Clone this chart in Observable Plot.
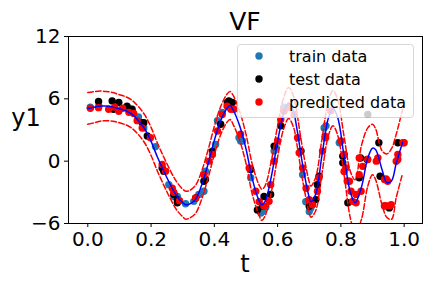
<!DOCTYPE html>
<html><head><meta charset="utf-8">
<script src="https://cdn.jsdelivr.net/npm/d3@7"></script>
<script src="https://cdn.jsdelivr.net/npm/@observablehq/plot@0.6"></script>
<style>body{margin:0;background:white;}</style>
</head><body><div id="chart"></div>
<script>
const title = "VF";
const xLabel = "t";
const yLabel = "y1";
const xTicks = [0, 0.2, 0.4, 0.6, 0.8, 1.0];
const yTicks = [-6, 0, 6, 12];
const legendLabels = ["train data", "test data", "predicted data"];

const lineT = [0, 0.02, 0.04, 0.06, 0.08, 0.10, 0.12, 0.14, 0.16, 0.18, 0.20, 0.22, 0.24, 0.26, 0.28, 0.30, 0.31, 0.32, 0.34, 0.36, 0.38, 0.40, 0.42, 0.44, 0.45, 0.46, 0.48, 0.50, 0.52, 0.54, 0.55, 0.56, 0.58, 0.60, 0.62, 0.635, 0.65, 0.66, 0.68, 0.70, 0.705, 0.72, 0.74, 0.76, 0.775, 0.79, 0.81, 0.83, 0.845, 0.865, 0.885, 0.90, 0.91, 0.93, 0.945, 0.96, 0.975, 0.995];
const lineMean = [5.06, 5.2, 5.3, 5.3, 5.2, 5.05, 4.85, 4.5, 3.9, 3.1, 1.9, 0.4, -0.95, -2.2, -3.3, -4.0, -4.2, -4.15, -3.7, -2.3, -0.3, 2.0, 3.9, 5.1, 5.35, 4.9, 3.4, 1.2, -1.7, -3.7, -4.2, -3.9, -1.5, 1.9, 4.7, 5.6, 4.8, 3.3, -0.5, -3.5, -3.9, -3.2, 0.5, 4.1, 5.1, 4.2, 0.5, -3.0, -4.0, -2.5, 0.3, 1.25, 1.1, -0.8, -2.05, -1.9, -0.2, 1.8];
const lineUpper = [6.6, 6.7, 6.75, 6.7, 6.6, 6.4, 6.2, 5.85, 5.25, 4.45, 3.25, 1.75, 0.4, -0.85, -1.95, -2.7, -2.9, -2.85, -2.35, -0.95, 1.05, 3.35, 5.25, 6.45, 6.7, 6.3, 4.8, 2.6, -0.3, -2.2, -2.7, -2.4, 0.0, 3.4, 6.2, 7.1, 6.3, 4.8, 1.0, -2.0, -2.4, -1.6, 2.1, 5.7, 6.8, 5.9, 2.4, -1.0, -1.8, 1.5, 3.2, 3.55, 3.1, 1.0, 0.7, 1.2, 2.6, 5.0];
const lineLower = [3.55, 3.7, 3.85, 3.9, 3.85, 3.7, 3.5, 3.15, 2.55, 1.75, 0.55, -0.95, -2.3, -3.55, -4.65, -5.35, -5.6, -5.5, -5.05, -3.65, -1.65, 0.65, 2.55, 3.75, 4.0, 3.5, 2.0, -0.2, -3.2, -5.1, -5.7, -5.3, -3.0, 0.4, 3.2, 4.1, 3.3, 1.8, -2.0, -5.0, -5.4, -4.8, -1.2, 2.4, 3.4, 2.5, -1.3, -5.5, -7.0, -5.6, -2.4, -1.3, -1.8, -4.2, -5.4, -5.6, -3.5, -1.2];

const trainT = [0.008, 0.035, 0.16, 0.177, 0.214, 0.256, 0.272, 0.283, 0.309, 0.335, 0.351, 0.367, 0.372, 0.404, 0.41, 0.425, 0.478, 0.483, 0.489, 0.515, 0.547, 0.552, 0.563, 0.589, 0.594, 0.62, 0.62, 0.679, 0.689, 0.7, 0.705, 0.71, 0.726, 0.747, 0.753, 0.795];
const trainY = [5.2, 5.3, 4.25, 3.2, 1.4, -2.26, -3.4, -3.4, -4.1, -3.87, -3.2, -2.9, -0.97, 1.6, 3.9, 4.7, 2.26, 1.94, 1.94, -1.6, -5.0, -4.84, -4.4, 0.97, 1.3, 4.84, 5.2, -1.3, -3.9, -4.84, -4.5, -4.2, -2.26, 3.2, 3.4, 1.77];

const testT = [0.034, 0.077, 0.081, 0.098, 0.124, 0.134, 0.14, 0.172, 0.177, 0.188, 0.235, 0.24, 0.272, 0.283, 0.283, 0.341, 0.367, 0.372, 0.394, 0.42, 0.441, 0.446, 0.457, 0.515, 0.536, 0.552, 0.557, 0.578, 0.589, 0.61, 0.674, 0.7, 0.721, 0.726, 0.731, 0.806, 0.806, 0.822, 0.858, 0.862, 0.885, 0.883, 0.92, 0.924, 0.938, 0.953, 0.98];
const testY = [5.74, 5.8, 5.0, 5.65, 5.3, 5.0, 5.0, 3.7, 3.7, 2.42, -0.65, -0.97, -3.2, -3.7, -4.0, -3.55, -1.94, -1.77, 0.97, 3.55, 5.65, 5.8, 5.65, -0.8, -4.7, -4.35, -3.4, -3.2, 1.45, 3.4, 0.97, -4.35, -3.7, -2.26, -1.45, 0.48, -0.16, -4.0, -1.6, 0.3, 4.5, 0.16, 1.77, -1.45, -4.3, -4.5, 1.77];

const predT = [0.008, 0.034, 0.066, 0.085, 0.098, 0.11, 0.13, 0.145, 0.156, 0.172, 0.198, 0.235, 0.246, 0.267, 0.272, 0.29, 0.341, 0.367, 0.383, 0.394, 0.41, 0.425, 0.44, 0.452, 0.462, 0.483, 0.51, 0.531, 0.542, 0.557, 0.573, 0.578, 0.589, 0.6, 0.61, 0.62, 0.636, 0.652, 0.663, 0.668, 0.679, 0.69, 0.7, 0.71, 0.726, 0.731, 0.742, 0.75, 0.752, 0.768, 0.8, 0.811, 0.81, 0.816, 0.82, 0.827, 0.832, 0.837, 0.848, 0.848, 0.858, 0.858, 0.864, 0.869, 0.885, 0.912, 0.917, 0.938, 0.943, 0.948, 0.938, 0.943, 0.953, 0.959, 0.975, 0.98, 0.98, 0.996, 1.0];
const predY = [5.1, 5.15, 5.0, 5.2, 4.8, 5.1, 4.7, 4.6, 3.9, 3.2, 2.26, -0.32, -0.97, -2.6, -3.0, -3.8, -3.55, -1.3, 0.0, 0.65, 2.9, 4.5, 5.3, 5.0, 5.0, 2.6, -0.65, -2.9, -3.9, -4.35, -3.87, -2.26, 0.0, 1.94, 4.0, 4.84, 5.2, 4.5, 2.26, 0.8, -0.65, -2.6, -3.7, -4.2, -2.9, -1.6, 0.97, 2.4, 2.26, 4.84, 1.94, 0.65, -1.0, -0.65, -1.9, -1.94, -2.9, -3.87, -4.0, -3.2, -1.3, 0.3, -2.9, -0.5, 0.16, 0.0, 0.32, -1.77, -1.7, -1.94, -4.3, -4.3, -4.3, -4.2, 0.0, 0.16, 0.65, 1.77, 1.77];

const colors = {train: "#1f77b4", test: "black", pred: "red", mean: "blue", band: "red"};

const lineData = lineT.map((t, i) => ({t, m: lineMean[i], u: lineUpper[i], l: lineLower[i]}));
const pts = (T, Y) => T.map((t, i) => ({t, y: Y[i]}));
const train = pts(trainT, trainY), test = pts(testT, testY), pred = pts(predT, predY);

const fmtY = d => d < 0 ? "\u2212" + Math.abs(d) : String(d);
const R = 3.7;
const chart = Plot.plot({
  width: 432, height: 288,
  marginLeft: 68, marginRight: 10, marginTop: 36, marginBottom: 65,
  style: {fontFamily: "DejaVu Sans", fontSize: "20px", color: "black", background: "white", overflow: "visible"},
  x: {domain: [-0.061, 1.058]},
  y: {domain: [-6, 12]},
  marks: [
    Plot.axisX({ticks: xTicks, tickFormat: d3.format(".1f"), tickSize: 4, tickPadding: 4, fontSize: 20, label: null, stroke: "black"}),
    Plot.axisY({ticks: yTicks, tickFormat: fmtY, tickSize: 4, tickPadding: 4, fontSize: 20, label: null, stroke: "black"}),
    Plot.dot(train, {x: "t", y: "y", r: R, fill: colors.train, stroke: null}),
    Plot.dot(test, {x: "t", y: "y", r: R, fill: colors.test, stroke: null}),
    Plot.dot(pred, {x: "t", y: "y", r: R, fill: colors.pred, stroke: null}),
    Plot.line(lineData, {x: "t", y: "m", stroke: colors.mean, strokeWidth: 1.5, curve: "catmull-rom", clip: true}),
    Plot.line(lineData, {x: "t", y: "u", stroke: colors.band, strokeWidth: 1.5, strokeDasharray: "5.5,2.4", curve: "catmull-rom", clip: true}),
    Plot.line(lineData, {x: "t", y: "l", stroke: colors.band, strokeWidth: 1.5, strokeDasharray: "5.5,2.4", curve: "catmull-rom", clip: true}),
    Plot.frame({stroke: "black", strokeWidth: 1})
  ]
});
document.getElementById("chart").appendChild(chart);

const svg = d3.select(chart);
svg.append("text").attr("x", 245).attr("y", 30).attr("text-anchor", "middle")
  .attr("font-size", 25).attr("fill", "black").text(title);
svg.append("text").attr("x", 245).attr("y", 272).attr("text-anchor", "middle")
  .attr("font-size", 24).attr("fill", "black").text(xLabel);
svg.append("text").attr("x", 26).attr("y", 126).attr("text-anchor", "middle")
  .attr("font-size", 24).attr("fill", "black").text(yLabel);

const lg = svg.append("g").attr("text-anchor", "start");
lg.append("rect").attr("x", 237.5).attr("y", 44.5).attr("width", 176).attr("height", 73).attr("rx", 3)
  .attr("fill", "white").attr("fill-opacity", 0.8).attr("stroke", "#cccccc").attr("stroke-opacity", 0.8);
const lc = [colors.train, colors.test, colors.pred];
legendLabels.forEach((lab, i) => {
  const cy = 56 + i * 23;
  lg.append("circle").attr("cx", 259).attr("cy", cy).attr("r", R).attr("fill", lc[i]);
  lg.append("text").attr("x", 289).attr("y", cy + 6).attr("text-anchor", "start")
    .attr("font-size", 16).attr("fill", "black").text(lab);
});
</script></body></html>
